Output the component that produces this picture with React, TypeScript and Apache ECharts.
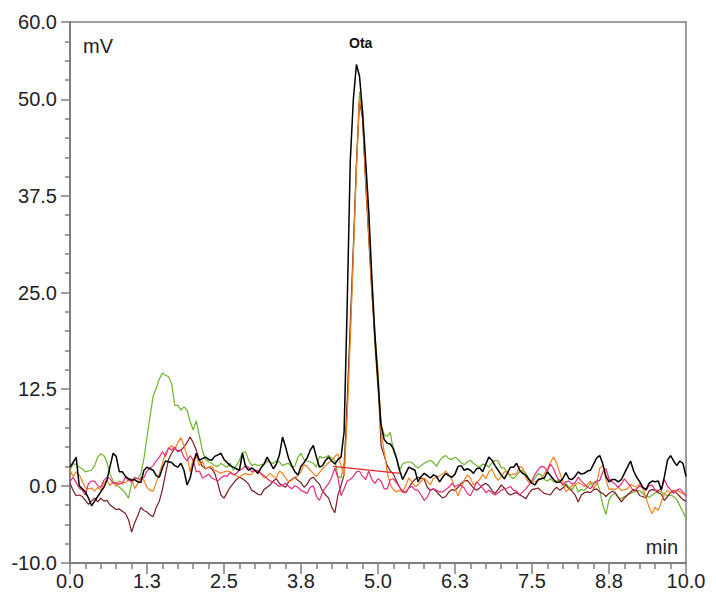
import React, { useEffect, useRef } from "react";
import * as echarts from "echarts";

// sampling step (min) shared by every trace, starting at 0.0 min
const TIME_STEP = 0.05;

const blackTrace = [
  2.4, 3.0, 3.7, 0.0, -0.4, -0.8, -1.6, -2.6, -2.0, -1.4, -0.8, -0.2, 0.7, 2.5, 4.2, 3.8, 1.8, 1.8, 1.2, 0.9,
  0.7, 0.8, 0.5, 0.4, 2.0, 2.4, 2.2, 2.0, 1.3, 1.1, 2.3, 3.2, 3.1, 3.0, 2.6, 2.4, 2.9, 2.0, 0.1, 1.0,
  2.8, 4.2, 3.3, 3.5, 3.7, 3.4, 3.3, 3.8, 4.0, 4.2, 3.4, 3.0, 2.6, 2.4, 2.2, 2.0, 4.2, 2.5, 2.0, 2.3,
  2.0, 1.6, 2.3, 2.8, 3.7, 3.0, 2.2, 2.8, 4.0, 6.3, 5.0, 3.5, 2.6, 1.8, 1.4, 2.5, 3.0, 3.6, 4.6, 5.2,
  3.7, 2.4, 2.6, 3.3, 3.7, 3.2, 2.8, 3.4, 3.7, 7.0, 23.5, 42.0, 50.0, 54.5, 53.0, 48.3, 42.0, 35.5, 27.0, 19.5,
  13.6, 7.8, 6.0, 5.5, 5.4, 4.8, 3.6, 2.0, 0.8, 1.6, 2.4, 2.2, 2.0, 0.5, 1.2, 1.6, 1.3, 1.0, 1.4, 1.2,
  0.5, 1.1, 1.6, 1.3, 1.1, 1.5, 2.5, 2.6, 2.0, 2.2, 2.0, 1.6, 2.2, 2.3, 1.8, 2.8, 3.7, 3.3, 2.6, 2.0,
  1.4, 0.9, 1.6, 2.4, 2.4, 2.9, 2.0, 1.6, 1.35, 0.8, 0.3, 0.1, 0.8, 0.9, 1.0, 1.8, 1.3, 0.8, 0.4, 0.5,
  0.9, 1.7, 0.9, 0.8, 1.2, 1.8, 1.5, 1.6, 1.9, 2.0, 2.8, 3.6, 3.9, 2.8, 1.2, 0.5, 0.8, 0.8, 0.5, 0.8,
  1.6, 2.4, 3.2, 1.9, 1.1, 0.5, -0.2, -0.5, 0.3, 0.6, 0.5, 0.6, -0.6, 1.2, 3.3, 3.9, 3.2, 2.6, 3.2, 2.9,
  1.2,
];

const greenTrace = [
  2.0, 2.8, 2.8, 2.4, 2.2, 1.8, 1.9, 2.0, 2.6, 3.7, 4.1, 3.9, 3.0, 1.5, 0.6, 0.2, -0.2, -0.5, -1.0, -1.6,
  0.3, 1.0, 0.9, 1.5, 3.5, 6.3, 9.0, 11.6, 12.6, 13.8, 14.6, 14.3, 14.1, 13.2, 10.4, 10.4, 9.8, 10.2, 9.8, 8.3,
  7.2, 8.4, 6.5, 4.5, 3.4, 3.1, 2.9, 2.6, 2.5, 2.9, 2.6, 2.4, 2.9, 2.0, 2.6, 3.3, 4.3, 4.4, 3.3, 2.6,
  2.8, 2.6, 2.7, 2.8, 3.2, 3.0, 2.9, 3.2, 3.1, 2.6, 2.8, 2.9, 2.4, 2.5, 3.7, 4.2, 3.4, 3.2, 3.1, 2.9,
  2.4, 3.8, 3.6, 3.7, 3.9, 3.6, 3.3, 1.2, 1.0, 3.0, 10.0, 20.0, 30.0, 42.0, 51.0, 47.5, 40.0, 33.0, 26.0, 18.0,
  12.5, 8.0, 6.6, 6.4, 6.9, 4.5, 3.5, 2.0, 2.8, 3.0, 3.1, 3.0, 2.6, 2.3, 2.6, 2.9, 3.1, 3.3, 3.0, 2.5,
  3.2, 3.7, 3.9, 3.5, 3.4, 3.7, 3.4, 3.0, 2.7, 3.1, 3.3, 2.9, 2.6, 2.4, 2.8, 2.7, 2.4, 3.0, 3.3, 3.2,
  2.3, 2.3, 1.6, 1.2, 0.9, 1.4, 1.8, 2.0, 1.6, 0.9, 0.5, 1.0, 1.6, 1.4, 0.8, 0.6, 0.9, 0.5, 0.6, 0.8,
  0.0, 0.3, -0.2, -0.5, 0.2, -0.8, -0.5, -0.6, -0.2, 0.3, 0.4, 0.6, -0.6, -2.5, -3.7, -1.8, -1.2, -1.0, -1.5, -1.7,
  -1.4, -1.2, -1.0, -0.8, -0.7, -0.6, -1.0, -1.4, -1.5, -1.2, -0.9, -0.7, -0.8, -1.1, -1.3, -1.2, -1.4, -1.8, -2.6, -3.4,
  -4.2,
];

const orangeTrace = [
  2.0, 1.2, 1.8, 1.4, 0.6, -0.3, -0.4, -0.3, -0.7, -0.2, -0.6, 0.4, 0.7, 0.0, 0.5, -0.1, 0.6, 0.4, 0.4, 0.8,
  0.9, -0.4, 0.3, 1.1, 0.7, -0.2, -0.6, -0.7, 0.4, 1.6, 2.9, 4.2, 4.8, 5.2, 4.7, 5.6, 6.2, 5.2, 3.9, 1.8,
  3.5, 3.8, 2.6, 3.2, 2.2, 2.4, 2.5, 2.0, 1.8, 1.6, 1.8, 1.9, 1.8, 1.5, 1.3, 1.1, 1.4, 1.6, 1.4, 1.5,
  2.0, 1.8, 1.5, 1.0, 1.2, 1.6, 1.2, 1.0, 1.9, 1.6, 1.0, 0.5, 0.7, 1.1, 1.3, 1.8, 2.7, 2.5, 2.0, 1.6,
  1.2, 1.7, 2.2, 2.6, 3.0, 3.3, 3.8, 4.1, 2.6, 1.2, 9.0, 19.0, 30.0, 41.0, 50.2, 48.0, 39.5, 32.5, 25.5, 19.5,
  15.0, 7.0, 4.4, 1.8, 0.1, -0.5, -0.8, -0.6, -0.8, 0.0, 1.0, 0.5, -0.1, 0.1, 0.6, 1.0, 0.6, 0.1, 1.0, 1.0,
  1.3, 1.5, 1.9, 1.4, 0.8, -0.4, -1.3, -0.3, 0.7, 1.4, 1.0, 0.1, 0.4, 0.8, 1.5, 0.9, 1.8, 2.2, 1.2, 0.7,
  1.2, 1.8, 1.8, 1.4, 1.5, 1.6, 2.5, 2.3, 1.0, 0.4, 0.5, 0.5, 0.7, 0.9, 1.5, 2.2, 3.0, 3.7, 2.9, 1.7,
  0.5, -0.8, -0.4, 0.0, 0.1, 0.4, 0.2, -0.1, 0.2, 0.6, -0.4, 0.3, 2.3, 2.6, 0.8, -0.5, -0.4, -0.5, -0.2, -0.6,
  -0.5, -0.4, 0.2, 0.0, -0.2, 0.3, -0.4, -1.5, -2.8, -3.6, -2.8, -3.2, -2.1, -1.0, -0.6, -1.0, -0.7, -0.6, -0.8, -1.0,
  -1.2,
];

const pinkTrace = [
  0.5, 1.1, 0.4, -0.3, -0.6, -1.2, 0.3, 0.6, 0.6, 0.0, -0.2, 0.7, 1.1, 0.9, 0.3, 0.4, 0.2, 0.3, 1.1, 0.7,
  0.5, 1.1, 0.9, 0.8, 1.1, 1.9, 2.3, 2.6, 3.2, 3.7, 4.4, 3.8, 4.9, 4.6, 5.0, 4.4, 4.6, 3.7, 3.2, 3.9,
  3.3, 1.8, 1.9, 1.0, 1.2, 1.5, 1.0, 0.8, 0.6, 1.0, 1.3, 1.2, 1.7, 1.4, 1.6, 2.0, 2.2, 2.6, 2.4, 1.8,
  2.0, 2.0, 1.6, 1.3, 0.9, 0.6, 0.5, 0.2, -0.1, 0.1, 0.3, -0.1, -0.4, 0.0, -0.2, -0.6, -0.8, -1.0, -0.2, 0.0,
  -1.4, -1.9, -0.8, -0.2, 0.3, 1.1, 2.3, 1.0, -1.3, -0.4, 0.6, 0.8, 1.2, 1.8, 1.9, 1.2, 0.8, 1.9, 0.8, 0.3,
  0.9, 0.6, -0.4, -0.4, 0.8, 0.9, 0.4, -0.2, -0.8, -0.9, -0.3, -0.1, -0.5, -0.6, -1.2, -1.9, -1.5, -0.6, -0.4, -0.6,
  -0.8, -0.8, -0.5, -0.2, 0.3, -0.1, 0.1, 0.0, -0.3, -1.0, -1.3, -0.5, 0.5, 0.1, -0.3, -0.9, -0.6, -0.9, -1.2, -0.9,
  -0.6, -0.4, -0.3, -0.1, -0.6, -0.7, -1.2, -0.8, -0.4, 0.1, 0.7, 1.5, 2.1, 2.5, 2.4, 1.9, 2.8, 2.2, 1.2, 0.5,
  0.2, 0.5, 0.6, 0.2, 0.4, 1.1, 0.6, 0.2, -0.2, -0.4, 0.2, 0.6, 0.7, 1.8, 2.2, 0.9, 0.5, 0.2, -0.2, 0.2,
  0.9, 0.4, -0.1, -0.7, -0.4, 0.0, -0.3, -0.6, 0.0, 0.1, -0.6, -0.6, -0.4, 0.8, -0.1, -0.5, -1.0, -0.6, -0.4, -0.8,
  -1.4,
];

const maroonTrace = [
  0.3, -0.6, -1.3, -1.2, -1.4, -1.9, -2.4, -2.0, -1.6, -2.1, -1.6, -2.0, -1.9, -2.5, -2.8, -3.1, -3.0, -3.3, -3.6, -4.4,
  -6.0, -4.8, -3.9, -2.8, -3.2, -3.4, -3.8, -4.0, -2.8, -2.0, -0.5, 1.5, 3.4, 4.2, 4.8, 4.5, 4.6, 5.0, 5.6, 6.3,
  5.6, 4.6, 3.3, 2.5, 2.2, 2.4, 2.2, 1.6, 0.3, -1.2, -1.6, -0.9, -0.2, 0.3, 0.8, 1.1, 0.9, 0.6, 0.2, -0.6,
  -0.8, -1.1, -1.2, -0.5, -0.2, 0.1, 0.6, 0.9, 0.3, 0.0, -0.2, 0.5, 0.8, 1.1, 0.7, 0.4, -0.2, 0.2, 0.9, 1.1,
  0.6, 0.2, -0.7, -1.2, -1.6, -2.8, -3.5, -1.2, 0.0, 1.5, 11.0, 21.0, 31.0, 41.5, 49.8, 47.5, 39.0, 32.0, 25.0, 19.0,
  13.5, 5.2, 3.9, 2.6, 1.9, 1.5, 0.6, -0.2, -0.7, -0.9, -0.3, 0.4, 0.8, 1.1, 1.0, 0.8, -0.2, -0.6, -0.4, -0.8,
  -1.2, -1.6, -1.4, -0.8, -0.5, -0.6, -0.2, 0.3, 0.6, 0.7, 0.2, -0.3, -0.6, -0.3, 0.1, 0.3, 0.0, -0.6, -1.0, -0.5,
  0.1, -0.3, -0.9, -1.2, -1.0, -0.9, -1.2, -1.4, -1.7, -1.0, -0.5, -0.4, -0.3, -0.7, -1.0, -1.1, -1.2, -0.6, -0.2, -0.6,
  -0.3, 0.1, -0.4, -0.7, -1.2, -2.1, -1.2, -0.9, -0.8, -0.9, -0.5, -0.4, -0.8, -1.0, -1.4, -1.0, -0.7, -0.9, -1.5, -2.1,
  -1.6, -1.2, -0.8, -0.5, -0.6, -1.3, -1.4, -1.6, -0.7, -0.5, -0.6, -0.9, -1.1, -1.9, -1.4, -0.9, -0.6, -1.0, -1.4, -1.8,
  -2.0,
];

// integration baseline of the Ota peak: [start min, start mV], [end min, end mV]
const baselineStart = [4.27, 2.5];
const baselineEnd = [5.36, 1.6];

// axis ticks
const xTickInterval = 1.25;
const yMajorTicks = [-10, 0, 12.5, 25, 37.5, 50, 60];
const yMinorTicks = [
  -7.5, -5, -2.5, 2.5, 5, 7.5, 10, 15, 17.5, 20, 22.5, 27.5, 30, 32.5, 35,
  40, 42.5, 45, 47.5, 52.5, 55, 57.5,
];

const peakName = "Ota";
const yUnit = "mV";
const xUnit = "min";

const FONT = "'Liberation Sans', Arial, sans-serif";
const AXIS_GRAY = "#7f7f7f";

function toPairs(values: number[]) {
  return values.map((v, i) => [Math.round(i * TIME_STEP * 100) / 100, v]);
}

export default function App() {
  const ref = useRef<HTMLDivElement>(null);

  useEffect(() => {
    if (!ref.current) return;
    const chart = echarts.init(ref.current, null, { renderer: "svg" });

    const traces = [
      { data: greenTrace, color: "#6bb52b", width: 1.2 },
      { data: maroonTrace, color: "#7a1c1e", width: 1.2 },
      { data: orangeTrace, color: "#f5821f", width: 1.2 },
      { data: pinkTrace, color: "#e62a7d", width: 1.2 },
      { data: blackTrace, color: "#000000", width: 1.5 },
    ];

    const series: any[] = traces.map((t) => ({
      type: "line",
      data: toPairs(t.data),
      showSymbol: false,
      symbol: "none",
      lineStyle: { color: t.color, width: t.width },
      itemStyle: { color: t.color },
      z: 3,
    }));
    series.push({
      type: "line",
      data: [baselineStart, baselineEnd],
      showSymbol: false,
      symbol: "none",
      lineStyle: { color: "#e8262b", width: 1.2 },
      z: 4,
    });

    chart.setOption({
      animation: false,
      backgroundColor: "#ffffff",
      grid: {
        left: 70,
        right: 30,
        top: 22,
        bottom: 35,
        show: true,
        borderColor: AXIS_GRAY,
        borderWidth: 1.5,
      },
      xAxis: {
        type: "value",
        min: 0,
        max: 10,
        interval: xTickInterval,
        axisLine: { show: true, onZero: false, lineStyle: { color: AXIS_GRAY, width: 2 } },
        axisTick: { show: true, length: 11, lineStyle: { color: AXIS_GRAY, width: 1.5 } },
        minorTick: { show: true, splitNumber: 5, length: 6, lineStyle: { color: AXIS_GRAY, width: 1.5 } },
        axisLabel: {
          formatter: (v: number) => v.toFixed(1),
          fontSize: 20,
          fontFamily: FONT,
          color: "#222222",
          margin: 8,
        },
        splitLine: { show: false },
      },
      yAxis: [
        {
          type: "value",
          min: -10,
          max: 60,
          axisLine: { show: true, onZero: false, lineStyle: { color: AXIS_GRAY, width: 2 } },
          axisTick: {
            show: true,
            customValues: yMajorTicks,
            length: 9,
            lineStyle: { color: AXIS_GRAY, width: 1.5 },
          },
          axisLabel: {
            customValues: yMajorTicks,
            formatter: (v: number) => v.toFixed(1),
            fontSize: 20,
            fontFamily: FONT,
            color: "#222222",
            margin: 13,
          },
          splitLine: { show: false },
        },
        {
          type: "value",
          min: -10,
          max: 60,
          position: "left",
          axisLine: { show: false, onZero: false },
          axisTick: {
            show: true,
            customValues: yMinorTicks,
            length: 5,
            lineStyle: { color: AXIS_GRAY, width: 1.5 },
          },
          axisLabel: { show: false },
          splitLine: { show: false },
        },
      ],
      series,
      graphic: [
        {
          type: "text",
          left: 83,
          top: 36,
          style: { text: yUnit, font: `20px ${FONT}`, fill: "#222222" },
        },
        {
          type: "text",
          right: 38,
          top: 537,
          style: { text: xUnit, font: `20px ${FONT}`, fill: "#222222" },
        },
        {
          type: "text",
          left: 349,
          top: 36,
          style: { text: peakName, font: `bold 14px ${FONT}`, fill: "#111111" },
        },
      ],
    });

    return () => chart.dispose();
  }, []);

  return (
    <div
      ref={ref}
      style={{ position: "absolute", left: 0, top: 0, width: 716, height: 598 }}
    />
  );
}
